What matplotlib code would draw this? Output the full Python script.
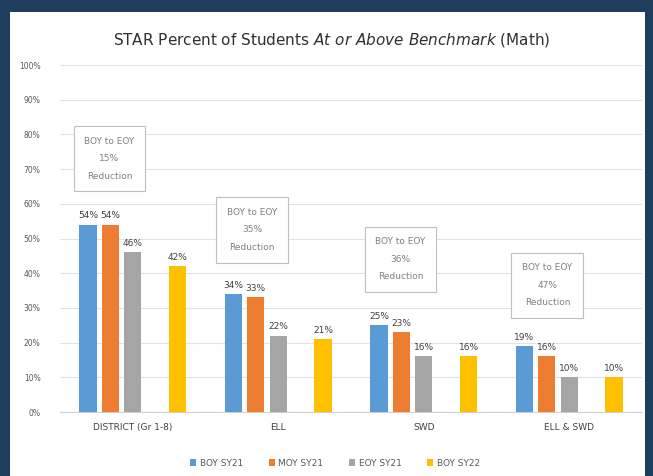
import matplotlib.pyplot as plt
from matplotlib.patches import Rectangle
import numpy as np

# data
groups = ["DISTRICT (Gr 1-8)", "ELL", "SWD", "ELL & SWD"]
series = ["BOY SY21", "MOY SY21", "EOY SY21", "BOY SY22"]
boy_sy21 = [54, 34, 25, 19]
moy_sy21 = [54, 33, 23, 16]
eoy_sy21 = [46, 22, 16, 10]
boy_sy22 = [42, 21, 16, 10]
notes = ["BOY to EOY\n15%\nReduction", "BOY to EOY\n35%\nReduction",
         "BOY to EOY\n36%\nReduction", "BOY to EOY\n47%\nReduction"]
note_pos = [(-0.16, 73), (0.82, 52.5), (1.84, 44), (2.85, 36.5)]
yticks = list(range(0, 101, 10))

colors = ["#5B9BD5", "#ED7D31", "#A5A5A5", "#FFC000"]
# yellow bar sits one empty slot to the right of the others
slots = [-2, -1, 0, 2]
slot_w = 0.154
bar_w = 0.118

fig = plt.figure(figsize=(6.53, 4.76), dpi=100)
fig.patch.set_facecolor("#1F3D5C")
fig.patches.append(Rectangle((10 / 653, 0), 635 / 653, 464 / 476,
                             transform=fig.transFigure, facecolor="white",
                             edgecolor="none", zorder=-5))

ax = fig.add_axes([60 / 653, 64 / 476, 582 / 653, 347 / 476])
ax.set_facecolor("none")

x = np.arange(len(groups))
for vals, col, s, name in zip([boy_sy21, moy_sy21, eoy_sy21, boy_sy22],
                              colors, slots, series):
    xs = x + s * slot_w
    ax.bar(xs, vals, width=bar_w, color=col, label=name, zorder=3)
    for xi, v in zip(xs, vals):
        ax.text(xi, v + 1.2, f"{v}%", ha="center", va="bottom",
                fontsize=6.5, color="#404040", zorder=4)

for txt, (nx, ny) in zip(notes, note_pos):
    ax.text(nx, ny, txt, ha="center", va="center", fontsize=6.5,
            color="#808080", linespacing=2.2, zorder=5,
            bbox=dict(boxstyle="square,pad=1.2", facecolor="white",
                      edgecolor="#BFBFBF", linewidth=0.8))

ax.set_xlim(-0.5, 3.5)
ax.set_ylim(0, 100)
ax.set_yticks(yticks)
ax.set_yticklabels([f"{t}%" for t in yticks], fontsize=5.5, color="#595959")
ax.set_xticks(x)
ax.set_xticklabels(groups, fontsize=6.5, color="#404040")
ax.tick_params(length=0, pad=8)
ax.tick_params(axis="y", pad=14)
ax.grid(axis="y", color="#E3E3E3", linewidth=0.8, zorder=0)
for side in ["top", "right", "left"]:
    ax.spines[side].set_visible(False)
ax.spines["bottom"].set_color("#D0D0D0")

fig.text(332 / 653, 1 - 40 / 476,
         r"STAR Percent of Students $\it{At\ or\ Above\ Benchmark}$ (Math)",
         ha="center", va="center", fontsize=11, color="#303030")

fig.legend(loc="center", bbox_to_anchor=(335 / 653, 1 - 463 / 476), ncol=4,
           frameon=False, fontsize=6.5, handlelength=0.7, handleheight=0.7,
           handletextpad=0.4, columnspacing=2.8, labelcolor="#595959")

fig.savefig("out.png", dpi=100, facecolor=fig.get_facecolor())
